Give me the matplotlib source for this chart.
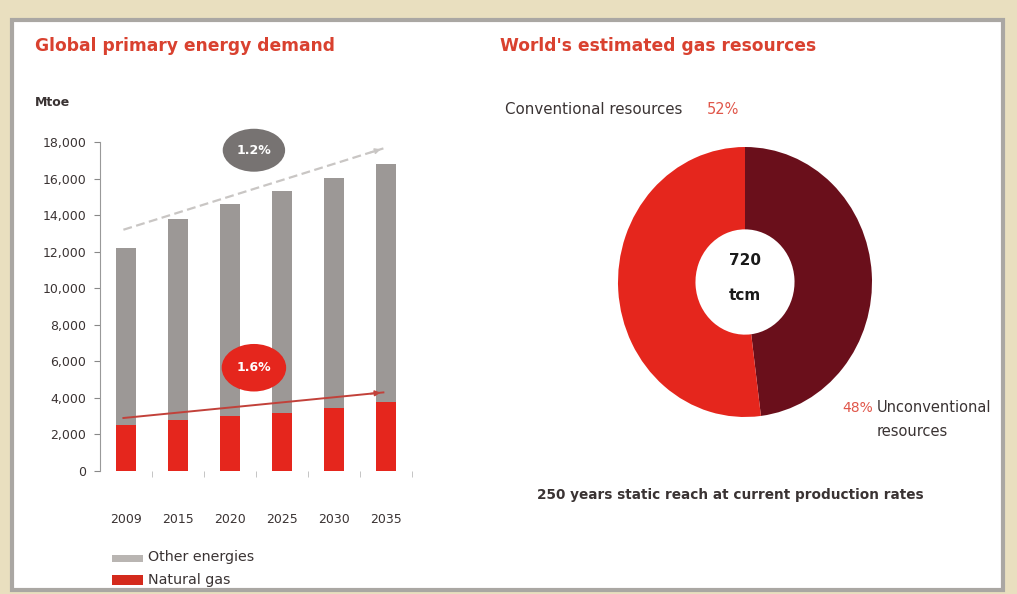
import matplotlib
matplotlib.use("Agg")
import matplotlib.pyplot as plt
from matplotlib.patches import FancyBboxPatch, Ellipse, Rectangle
import numpy as np

plt.rcParams['font.family'] = ['DejaVu Sans']

# ---- data ----
years = ["2009", "2015", "2020", "2025", "2030", "2035"]
total_demand = [12200, 13800, 14600, 15300, 16050, 16800]   # Mtoe, all energies
natural_gas = [2500, 2800, 3000, 3200, 3450, 3750]          # Mtoe, natural gas
other_energies = [t - g for t, g in zip(total_demand, natural_gas)]
other_trend = [13200, 17650]
gas_trend = [2900, 4300]
growth_labels = ["1.2%", "1.6%"]
y_ticks = [0, 2000, 4000, 6000, 8000, 10000, 12000, 14000, 16000, 18000]

resource_shares = [48, 52]            # unconventional, conventional (%)
resource_names = ["Unconventional\nresources", "Conventional resources"]
total_resources = "720\ntcm"

W, H = 1017, 594
fig = plt.figure(figsize=(W / 100, H / 100), dpi=100)
fig.patch.set_facecolor('#e9dfbf')

def fx(px):
    return px / W

def fy(py):
    return 1 - py / H

# white card with grey border
card = FancyBboxPatch((fx(12), fy(590)), fx(1003) - fx(12), fy(20) - fy(590),
                      boxstyle="square,pad=0", transform=fig.transFigure,
                      facecolor='white', edgecolor='#aaa7a3', linewidth=3, zorder=-5)
fig.add_artist(card)

RED = '#e5261d'
DARK = '#6a0f1b'
GREY = '#9c9896'
TXT = '#3a3333'

# ---- left: bar chart ----
ax = fig.add_axes([fx(100), fy(471), fx(412) - fx(100), fy(142) - fy(471)])
ax.set_facecolor('none')
ax.set_zorder(2)
x = np.arange(len(years))
bw = 0.4
ax.bar(x, natural_gas, width=bw, color=RED, zorder=3)
ax.bar(x, other_energies, bottom=natural_gas, width=bw, color=GREY, zorder=3)
ax.set_xlim(-0.5, 5.5)
ax.set_ylim(0, 18000)
ax.set_yticks(y_ticks)
ax.set_yticklabels([f"{v:,}" for v in y_ticks], fontsize=9, color=TXT)
ax.set_xticks(x)
ax.set_xticklabels(years, fontsize=9, color=TXT)
ax.set_xticks(x + 0.5, minor=True)
ax.tick_params(axis='x', which='major', length=0, pad=30)
ax.tick_params(axis='x', which='minor', length=4, color='#bbbbbb', direction='out')
ax.tick_params(axis='y', length=4, color='#888888', pad=6)
for s in ['top', 'right', 'bottom']:
    ax.spines[s].set_visible(False)
ax.spines['left'].set_color('#999999')
ax.spines['left'].set_bounds(0, 18000)

# growth trend lines
tx = [-0.05, 4.95]
ax.plot(tx, other_trend, color='#c9c6c4', lw=1.6, ls=(0, (4, 2)), zorder=2)
ax.annotate("", xy=(tx[1], other_trend[1]), xytext=(tx[1] - 0.3, other_trend[1] - 270),
            arrowprops=dict(arrowstyle='-|>', color='#c9c6c4', lw=1.2, mutation_scale=8), zorder=2)
ax.plot(tx, gas_trend, color='#c2413a', lw=1.4, zorder=4)
ax.annotate("", xy=(tx[1], gas_trend[1]), xytext=(tx[1] - 0.3, gas_trend[1] - 84),
            arrowprops=dict(arrowstyle='-|>', color='#c2413a', lw=1.2, mutation_scale=8), zorder=4)

# growth rate bubbles
ax.add_patch(Ellipse((2.46, 17550), 1.2, 2350, facecolor='#777372', edgecolor='none',
                     zorder=5, clip_on=False))
ax.text(2.46, 17550, growth_labels[0], ha='center', va='center', color='white',
        fontsize=9, fontweight='bold', zorder=6)
ax.add_patch(Ellipse((2.46, 5650), 1.24, 2600, facecolor=RED, edgecolor='none', zorder=5))
ax.text(2.46, 5650, growth_labels[1], ha='center', va='center', color='white',
        fontsize=9, fontweight='bold', zorder=6)

# legend
fig.add_artist(Rectangle((fx(112), fy(562)), fx(31), fy(555) - fy(562),
                         transform=fig.transFigure, facecolor='#b9b5b2', edgecolor='none'))
fig.add_artist(Rectangle((fx(112), fy(585)), fx(31), fy(575) - fy(585),
                         transform=fig.transFigure, facecolor='#d42a1c', edgecolor='none'))
fig.text(fx(148), fy(557), "Other energies", fontsize=10.3, color=TXT, va='center')
fig.text(fx(148), fy(580), "Natural gas", fontsize=10.3, color=TXT, va='center')

fig.text(fx(35), fy(46), "Global primary energy demand", fontsize=12.3, fontweight='bold',
         color='#d9412f', va='center')
fig.text(fx(35), fy(103), "Mtoe", fontsize=9, fontweight='bold', color=TXT, va='center')

# ---- right: donut ----
fig.text(fx(500), fy(46), "World's estimated gas resources", fontsize=12.3, fontweight='bold',
         color='#d9412f', va='center')
cx, cy, rx, ry = 745, 282, 127, 135
ax2 = fig.add_axes([fx(cx - rx), fy(cy + ry), fx(2 * rx), fy(0) - fy(2 * ry)])
ax2.set_zorder(2)
ax2.pie(resource_shares, colors=[DARK, RED], startangle=90, counterclock=False,
        radius=1.0, wedgeprops=dict(width=0.61, edgecolor='none', linewidth=0))
ax2.set_aspect('auto')
ax2.set_xlim(-1, 1)
ax2.set_ylim(-1, 1)
ax2.axis('off')
ax2.text(0, 0.16, total_resources.split("\n")[0], ha='center', va='center', fontsize=11,
         fontweight='bold', color='#1a1a1a')
ax2.text(0, -0.1, total_resources.split("\n")[1], ha='center', va='center', fontsize=11,
         fontweight='bold', color='#1a1a1a')

fig.text(fx(505), fy(110), resource_names[1], fontsize=10.8, color=TXT, va='center')
fig.text(fx(707), fy(110), f"{resource_shares[1]}%", fontsize=10.5, color='#e0564a', va='center')
fig.text(fx(842), fy(408), f"{resource_shares[0]}%", fontsize=10, color='#e0564a', va='center')
fig.text(fx(877), fy(408), resource_names[0].split("\n")[0], fontsize=10.5, color=TXT, va='center')
fig.text(fx(877), fy(431), resource_names[0].split("\n")[1], fontsize=10.5, color=TXT, va='center')

fig.text(fx(730), fy(495), "250 years static reach at current production rates",
         fontsize=9.8, fontweight='bold', color=TXT, ha='center', va='center')

fig.savefig("out.png", dpi=100, facecolor=fig.get_facecolor())
